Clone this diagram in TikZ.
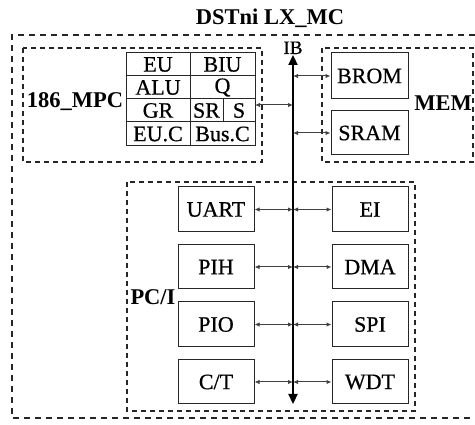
\documentclass[tikz,border=0pt]{standalone}
\usepackage{fontspec}
\setmainfont{Liberation Serif}
\newfontfamily\boxfont{Liberation Serif}[FakeBold=0.6]
\usetikzlibrary{arrows.meta}
\begin{document}
\begin{tikzpicture}[x=1pt,y=-1pt,
  box/.style={draw=black!85, line width=1pt, inner sep=0pt, font=\boxfont\fontsize{22}{22}\selectfont},
  grp/.style={draw=black!85, line width=1.1pt, dash pattern=on 5pt off 4pt},
  outer/.style={draw=black!85, line width=1.6pt, dash pattern=on 6pt off 5pt},
  lbl/.style={font=\bfseries\fontsize{22.5}{22.5}\selectfont, inner sep=0pt, anchor=base},
  link/.style={draw=black!75, line width=1pt, {Latex[length=5pt,width=4.5pt]}-{Latex[length=5pt,width=4.5pt]}},
  bus/.style={line width=2.3pt, {Triangle[length=10pt,width=9pt]}-{Triangle[length=10pt,width=9pt]}}
]
\useasboundingbox (0,0) rectangle (475,425);

% outer frame (right side outside the picture)
\draw[outer] (475,35) -- (12,35) -- (12,418) -- (475,418);
\node[lbl] (title) at (270,25) {DSTni LX\_MC};

% groups
\draw[grp] (23,48) rectangle (262,162);
\draw[grp] (322,48) rectangle (473,162);
\draw[grp] (127,182) rectangle (415,411);
\node[lbl] (mpclbl) at (75,108) {186\_MPC};
\node[lbl] (memlbl) at (443,111) {MEM};
\node[lbl] (pcilbl) at (153,305) {PC/I};

% 186 table
\node[box, minimum width=64pt, minimum height=23pt] (EU)   at (158,64.5) {EU};
\node[box, minimum width=65pt, minimum height=23pt] (BIU)  at (222.5,64.5) {BIU};
\node[box, minimum width=64pt, minimum height=23pt] (ALU)  at (158,87.5) {ALU};
\node[box, minimum width=65pt, minimum height=23pt] (Q)    at (222.5,87.5) {Q};
\node[box, minimum width=64pt, minimum height=23pt] (GR)   at (158,110.5) {GR};
\node[box, minimum width=33pt, minimum height=23pt] (SR)   at (206.5,110.5) {SR};
\node[box, minimum width=32pt, minimum height=23pt] (S)    at (239,110.5) {S};
\node[box, minimum width=64pt, minimum height=24pt] (EUC)  at (158,134) {EU.C};
\node[box, minimum width=65pt, minimum height=24pt] (BusC) at (222.5,134) {Bus.C};
\coordinate (mpcport) at (255,105);

% memory
\node[box, minimum width=77pt, minimum height=46pt] (BROM) at (369.5,76) {BROM};
\node[box, minimum width=77pt, minimum height=44pt] (SRAM) at (369.5,133) {SRAM};

% peripherals
\node[box, minimum width=76pt, minimum height=45pt] (UART) at (216,209.5) {UART};
\node[box, minimum width=76pt, minimum height=44pt] (PIH)  at (216,267) {PIH};
\node[box, minimum width=76pt, minimum height=45pt] (PIO)  at (216,324.5) {PIO};
\node[box, minimum width=76pt, minimum height=44pt] (CT)   at (216,382) {C/T};
\node[box, minimum width=76pt, minimum height=45pt] (EI)   at (370,209.5) {EI};
\node[box, minimum width=76pt, minimum height=44pt] (DMA)  at (370,267) {DMA};
\node[box, minimum width=76pt, minimum height=45pt] (SPI)  at (370,324.5) {SPI};
\node[box, minimum width=76pt, minimum height=44pt] (WDT)  at (370,382) {WDT};

% internal bus
\coordinate (bustop) at (293,55);
\coordinate (busbot) at (293,404);
\draw[bus] (bustop) -- (busbot);
\node[font=\boxfont\fontsize{19}{19}\selectfont, inner sep=0pt, anchor=base] (IB) at (293,54) {IB};

% links
\draw[link] (mpcport) -- (mpcport -| bustop);
\draw[link] (BROM.west -| bustop) -- (BROM.west);
\draw[link] (SRAM.west -| bustop) -- (SRAM.west);
\foreach \l/\r in {UART/EI, PIH/DMA, PIO/SPI, CT/WDT}{
  \draw[link] (\l.east) -- (\l.east -| bustop);
  \draw[link] (\r.west -| bustop) -- (\r.west);
}
\end{tikzpicture}
\end{document}
